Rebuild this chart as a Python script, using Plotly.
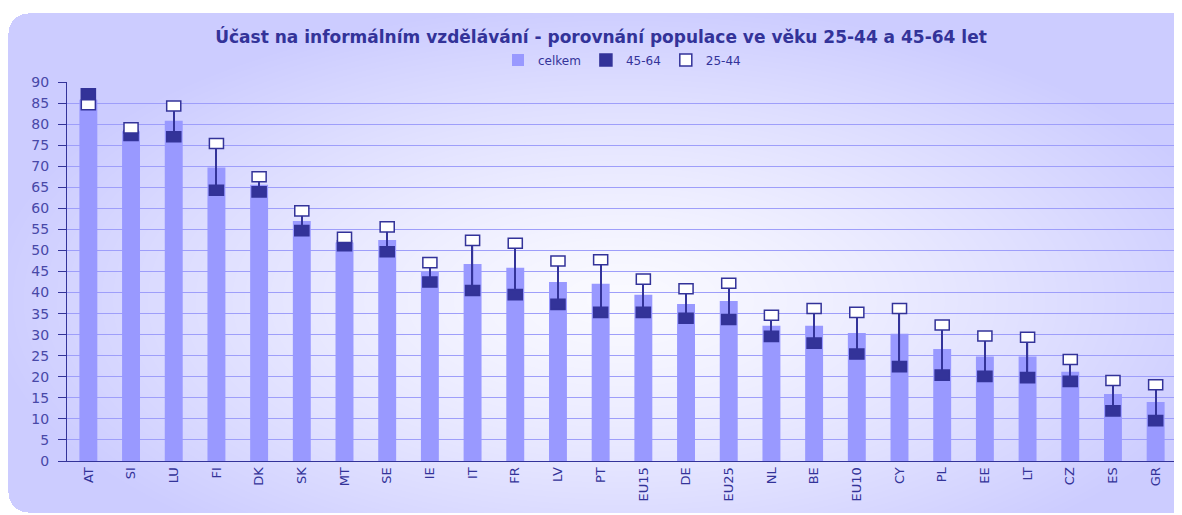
import base64, struct, zlib
import numpy as np
import plotly.graph_objects as go

# ---- data ----
countries = ["AT", "SI", "LU", "FI", "DK", "SK", "MT", "SE", "IE", "IT", "FR", "LV", "PT",
             "EU15", "DE", "EU25", "NL", "BE", "EU10", "CY", "PL", "EE", "LT", "CZ", "ES", "GR"]
celkem = [85.8, 78.3, 80.8, 69.7, 65.6, 57.0, 51.9, 52.5, 44.9, 46.8, 45.9, 42.5, 42.1,
          39.5, 37.3, 38.0, 32.1, 32.1, 30.4, 30.2, 26.6, 24.8, 24.8, 21.2, 15.9, 14.0]
age_45_64 = [87.2, 77.3, 77.0, 64.3, 63.9, 54.7, 51.1, 49.7, 42.5, 40.5, 39.5, 37.2, 35.3,
             35.3, 33.9, 33.6, 29.6, 28.0, 25.4, 22.4, 20.4, 20.1, 19.8, 18.9, 11.9, 9.6]
age_25_44 = [84.6, 79.1, 84.3, 75.4, 67.5, 59.4, 53.1, 55.6, 47.1, 52.4, 51.7, 47.5, 47.8,
             43.2, 40.9, 42.2, 34.6, 36.2, 35.3, 36.2, 32.3, 29.7, 29.4, 24.1, 19.1, 18.1]
y_ticks = list(range(0, 95, 5))

# page body has an 8px margin, so the figure is laid out in window coords minus 8
W, H = 1174, 507
ML, MR, MT_, MB = 59, 5, 74, 54
PW, PH = W - ML - MR, H - MT_ - MB

NAVY = "#333399"
BAR = "#9999FF"
FONT = "DejaVu Sans, Verdana, sans-serif"

# ---- background image (rounded lavender panel with a soft radial glow) ----
yy, xx = np.mgrid[0:H, 0:W].astype(float)
edge = np.array([204, 204, 255], float)
centre = np.array([250, 250, 255], float)
r = np.sqrt(((xx - 612) / 640) ** 2 + ((yy - 292) / 300) ** 2)
t = np.clip(r, 0, 1) ** 1.3
img = centre[None, None, :] * (1 - t[..., None]) + edge[None, None, :] * t[..., None]
x0, y0, x1, y1, rad = 0, 5, 1300, 504, 20
inside = (xx >= x0) & (xx <= x1) & (yy >= y0) & (yy <= y1)
for cx, cy, up in [(x0 + rad, y0 + rad, True), (x0 + rad, y1 - rad, False)]:
    corner = (xx < cx) & ((yy < cy) if up else (yy > cy))
    inside &= ~(corner & ((xx - cx) ** 2 + (yy - cy) ** 2 > rad ** 2))
img[~inside] = 255
img = img.astype(np.uint8)


def to_png(a):
    h, w, _ = a.shape
    raw = b"".join(b"\x00" + a[i].tobytes() for i in range(h))

    def chunk(tag, data):
        c = tag + data
        return struct.pack(">I", len(data)) + c + struct.pack(">I", zlib.crc32(c) & 0xFFFFFFFF)

    return (b"\x89PNG\r\n\x1a\n" + chunk(b"IHDR", struct.pack(">IIBBBBB", w, h, 8, 2, 0, 0, 0))
            + chunk(b"IDAT", zlib.compress(raw, 9)) + chunk(b"IEND", b""))


bg_uri = "data:image/png;base64," + base64.b64encode(to_png(img)).decode()

# ---- figure ----
MH = 2.4  # marker rectangle height (value units)
fig = go.Figure()
fig.add_trace(go.Bar(x=countries, y=celkem, name="celkem", width=0.42,
                     marker=dict(color=BAR, line=dict(width=0))))
lo = [min(a, b) for a, b in zip(age_45_64, age_25_44)]
hi = [max(a, b) for a, b in zip(age_45_64, age_25_44)]
fig.add_trace(go.Bar(x=countries, y=[h - l for l, h in zip(lo, hi)], base=lo, width=0.028,
                     marker=dict(color=NAVY, line=dict(width=0)), showlegend=False,
                     hoverinfo="skip"))
fig.add_trace(go.Bar(x=countries, y=[MH] * len(countries), base=[v - MH / 2 for v in age_45_64],
                     name="45-64", width=0.33,
                     marker=dict(color=NAVY, line=dict(color=NAVY, width=1.5))))
fig.add_trace(go.Bar(x=countries, y=[MH] * len(countries), base=[v - MH / 2 for v in age_25_44],
                     name="25-44", width=0.33,
                     marker=dict(color="white", line=dict(color=NAVY, width=1.5))))

fig.update_layout(
    width=W, height=H,
    margin=dict(l=ML, r=MR, t=MT_, b=MB),
    barmode="overlay",
    paper_bgcolor="white",
    plot_bgcolor="rgba(0,0,0,0)",
    font=dict(family=FONT, color=NAVY),
    title=dict(text="<b>Účast na informálním vzdělávání - porovnání populace ve věku 25-44 a 45-64 let</b>",
               x=593 / W, xref="container", xanchor="center", y=1 - 29 / H, yanchor="middle",
               font=dict(size=17, color=NAVY, family=FONT)),
    legend=dict(orientation="h", x=0.5, xanchor="center", y=1 + 22 / PH, yanchor="middle",
                font=dict(size=12, color=NAVY), bgcolor="rgba(0,0,0,0)",
                itemwidth=30, tracegroupgap=0),
    images=[dict(source=bg_uri, xref="paper", yref="paper", x=-ML / PW, y=1 + MT_ / PH,
                 sizex=W / PW, sizey=H / PH, xanchor="left", yanchor="top",
                 sizing="stretch", layer="below")],
    xaxis=dict(showline=True, linecolor=NAVY, linewidth=1, ticks="", tickangle=-90,
               tickfont=dict(size=13, color=NAVY), showgrid=False, fixedrange=True),
    yaxis=dict(range=[0, 90], tickvals=y_ticks, showline=True, linecolor=NAVY, linewidth=1,
               ticks="outside", ticklen=8, tickcolor=NAVY, gridcolor="#9E9EFA", gridwidth=1,
               tickfont=dict(size=14, color="#4848A8"), zeroline=False,
               ticklabelstandoff=6),
    showlegend=True,
)

fig.write_html("out.html")
